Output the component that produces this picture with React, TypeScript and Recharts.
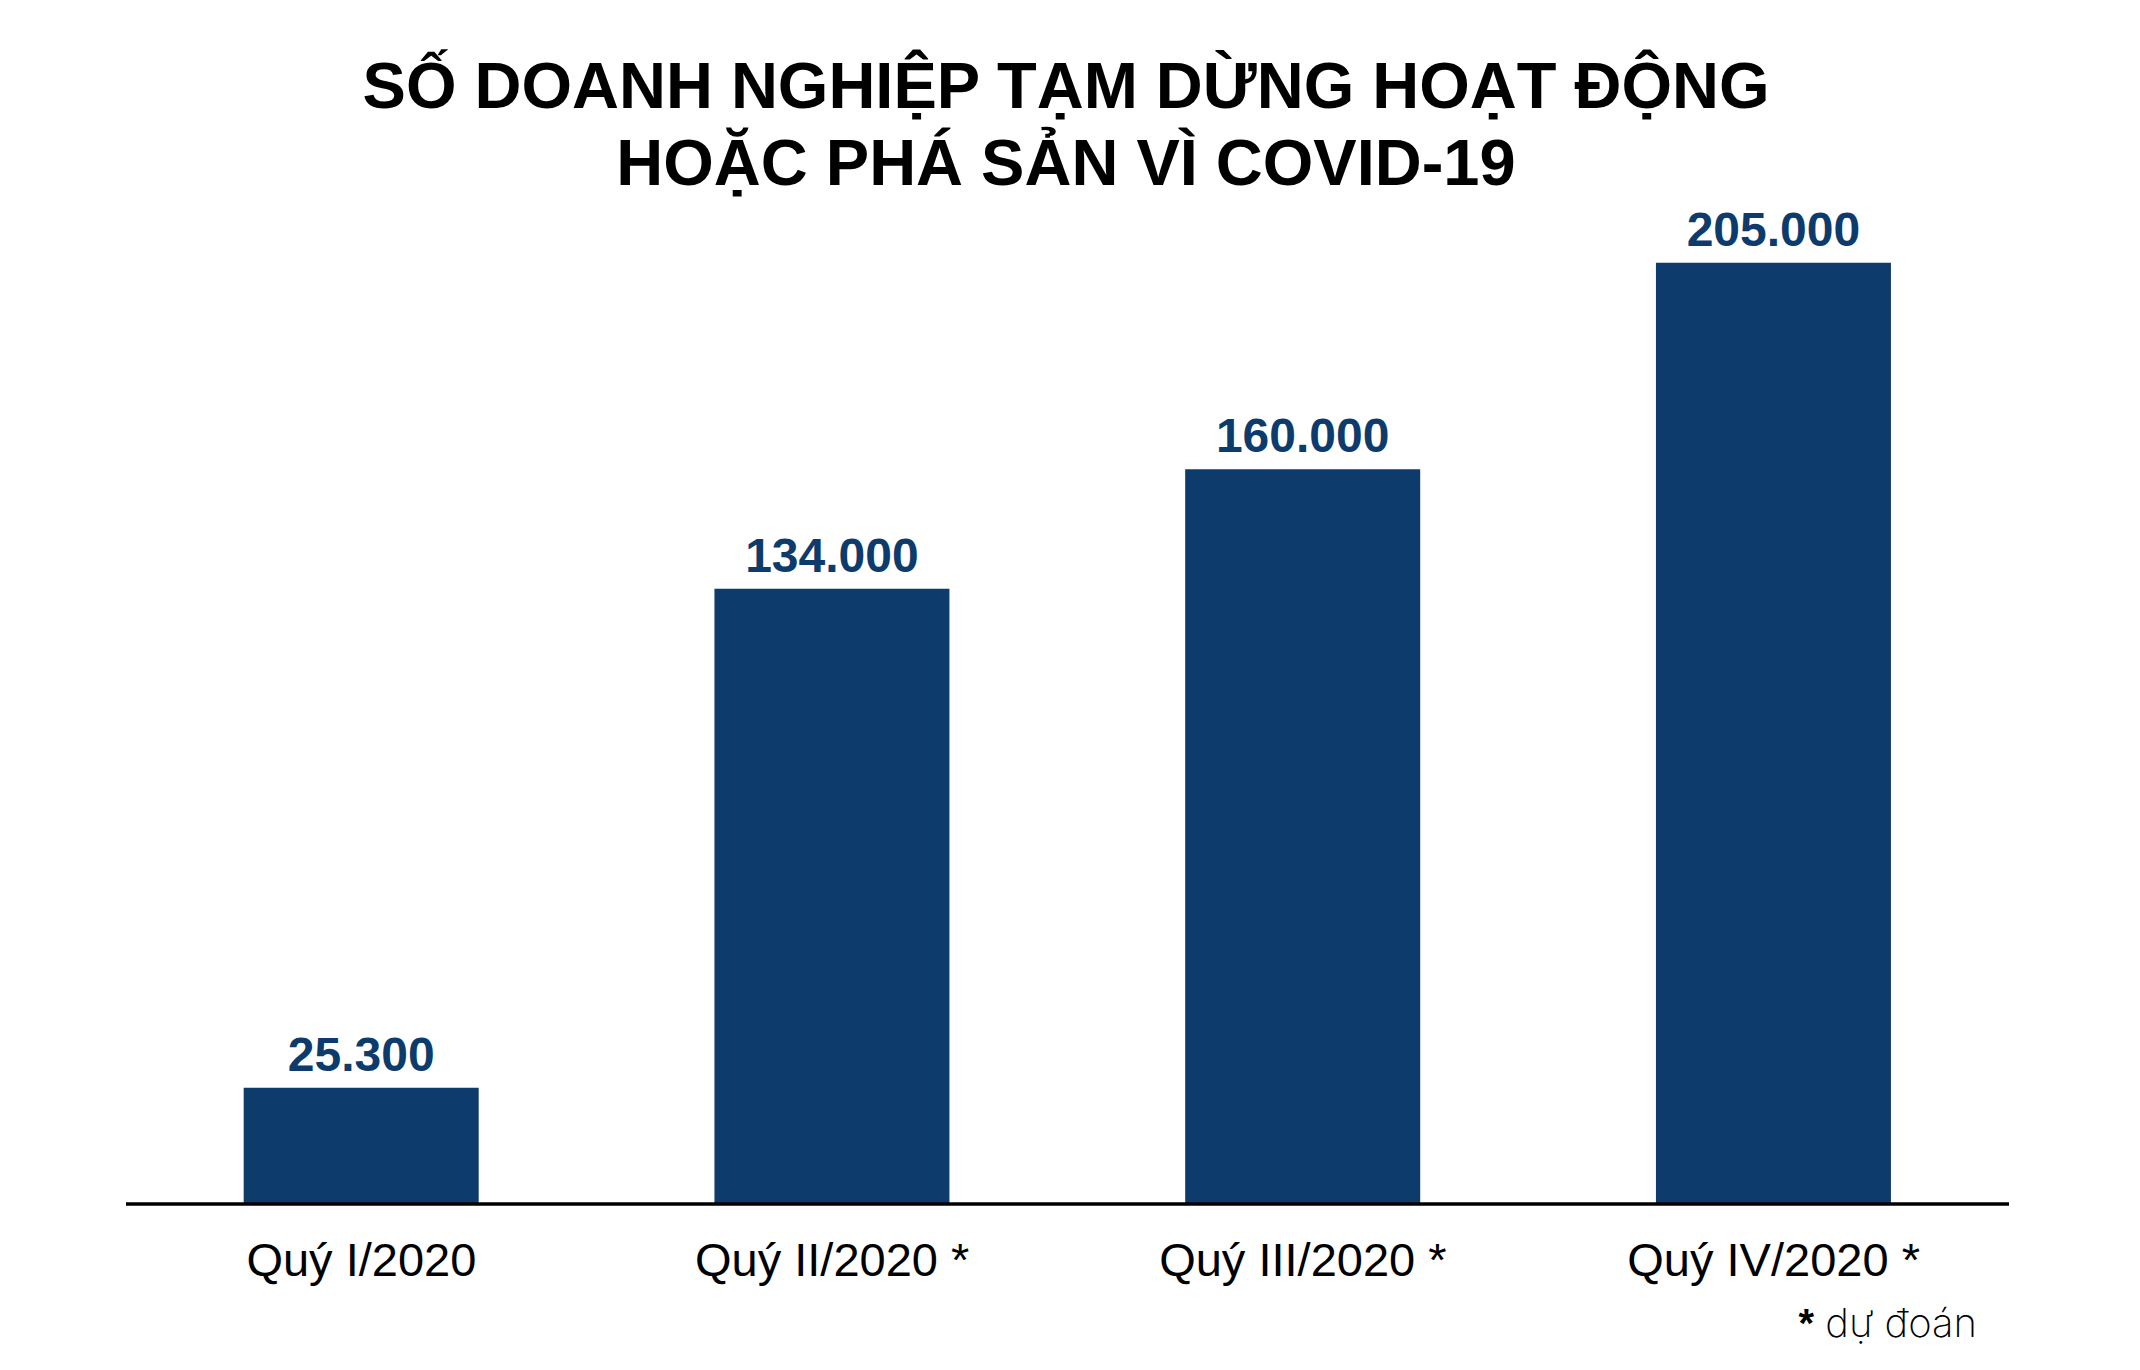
import React from 'react';
import { BarChart, Bar, XAxis, YAxis, LabelList } from 'recharts';

const categories = ['Quý I/2020', 'Quý II/2020 *', 'Quý III/2020 *', 'Quý IV/2020 *'];
const values = [25300, 134000, 160000, 205000];
const titleLines = ['SỐ DOANH NGHIỆP TẠM DỪNG HOẠT ĐỘNG', 'HOẶC PHÁ SẢN VÌ COVID-19'];
const footnoteMark = '*';
const footnoteText = ' dự đoán';

const data = categories.map((name, i) => ({ name, value: values[i] }));

const BAR_COLOR = '#0d3b6b';
const SANS = '"Liberation Sans", Arial, Helvetica, sans-serif';

const fmt = (v: number) => String(v).replace(/\B(?=(\d{3})+(?!\d))/g, '.');

const Tick = (props: any) => {
  const { x, y, payload } = props;
  return (
    <text x={x} y={y + 72} textAnchor="middle" fontFamily={SANS} fontSize={47} fill="#000">
      {payload.value}
    </text>
  );
};

const ValueLabel = (props: any) => {
  const { x, y, width, value } = props;
  return (
    <text
      x={x + width / 2}
      y={y - 17}
      textAnchor="middle"
      fontFamily={SANS}
      fontWeight="bold"
      fontSize={48}
      fill={BAR_COLOR}
    >
      {fmt(value)}
    </text>
  );
};

export default function App() {
  return (
    <div style={{ position: 'absolute', left: 0, top: 0, width: 2140, height: 1370, background: '#fff' }}>
      <BarChart
        width={2140}
        height={1370}
        data={data}
        margin={{ top: 56, right: 131, bottom: 136, left: 126 }}
        barCategoryGap="25%"
      >
        <YAxis hide domain={[0, 250000]} />
        <XAxis
          dataKey="name"
          height={30}
          axisLine={{ stroke: '#000', strokeWidth: 3.5 }}
          tickLine={false}
          tickSize={0}
          tickMargin={0}
          tick={<Tick />}
          interval={0}
        />
        <Bar dataKey="value" fill={BAR_COLOR} isAnimationActive={false}>
          <LabelList dataKey="value" content={<ValueLabel />} />
        </Bar>
      </BarChart>
      <svg
        width={2140}
        height={1370}
        style={{ position: 'absolute', left: 0, top: 0, pointerEvents: 'none' }}
      >
        <text x={1066} y={108} textAnchor="middle" fontFamily={SANS} fontWeight="bold" fontSize={65} fill="#000">
          {titleLines[0]}
        </text>
        <text x={1066} y={185} textAnchor="middle" fontFamily={SANS} fontWeight="bold" fontSize={65} fill="#000">
          {titleLines[1]}
        </text>
        <text x={1977} y={1337} textAnchor="end" fontSize={40} fill="#000">
          <tspan fontFamily={SANS} fontWeight="bold">{footnoteMark}</tspan>
          <tspan fontFamily='Inter, "Noto Sans", sans-serif' fontWeight={200}>{footnoteText}</tspan>
        </text>
      </svg>
    </div>
  );
}
